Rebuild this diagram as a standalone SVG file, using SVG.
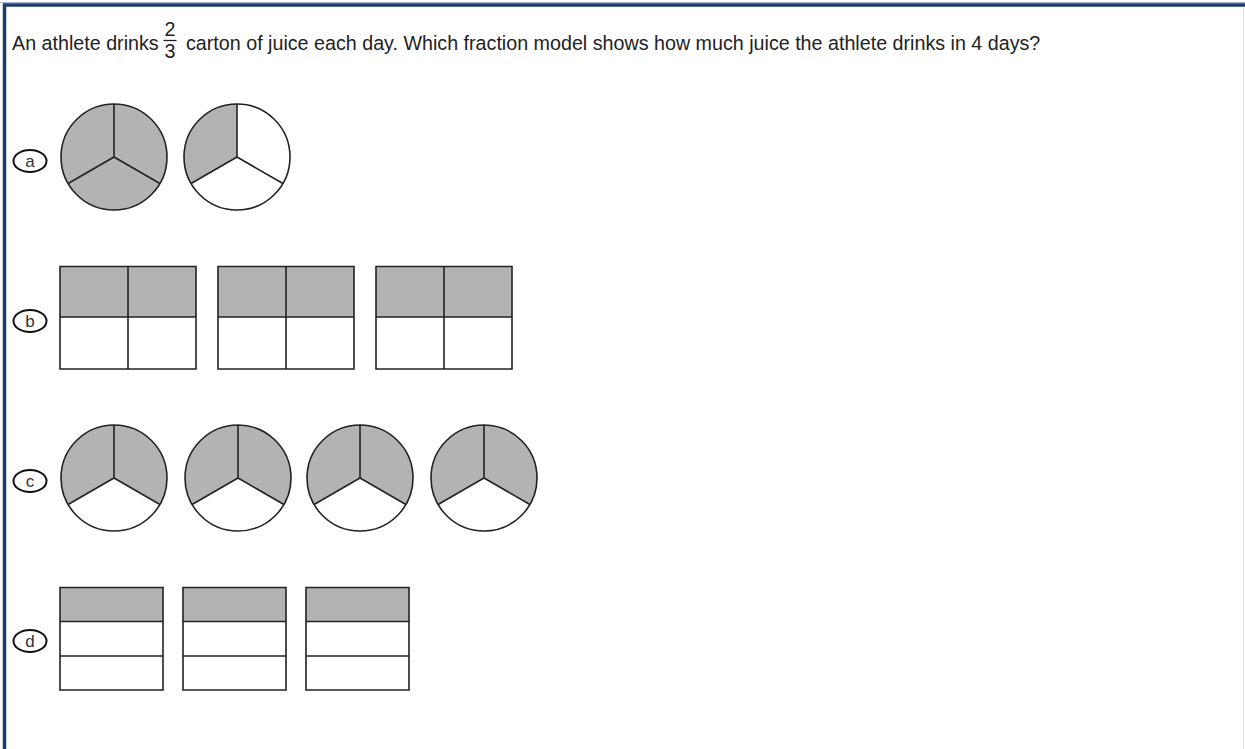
<svg xmlns="http://www.w3.org/2000/svg" xmlns:xlink="http://www.w3.org/1999/xlink" width="1245" height="749" viewBox="0 0 1245 749">
<style>
.q{font-family:"Liberation Sans",Arial,sans-serif;font-size:19.7px;fill:#222}
.lab{font-family:"Liberation Sans",Arial,sans-serif;font-size:17px;fill:#333;text-anchor:middle}
.lel{fill:#fff;stroke:#111;stroke-width:2}
.sh{fill:#b3b3b3}
.wh{fill:#fff}
.ln{fill:none;stroke:#222;stroke-width:1.6}
</style>
<defs>
<g id="spokes"><path class="ln" d="M0,-53 V0 M0,0 L-45.9,26.5 M0,0 L45.9,26.5"/><circle class="ln" r="53"/></g>
<g id="pie3"><circle class="sh" r="53"/><use xlink:href="#spokes"/></g>
<g id="pie1"><circle class="wh" r="53"/><path class="sh" d="M0,0 L-45.9,26.5 A53,53 0 0 1 0,-53 Z"/><use xlink:href="#spokes"/></g>
<g id="pie2"><circle class="wh" r="53"/><path class="sh" d="M0,0 L-45.9,26.5 A53,53 0 0 1 0,-53 A53,53 0 0 1 45.9,26.5 Z"/><use xlink:href="#spokes"/></g>
<g id="rect4"><rect class="wh" x="0" y="0" width="136" height="103"/><rect class="sh" x="0" y="0" width="136" height="51"/><path class="ln" d="M0,0.5 H136 V103 H0 Z M0,51 H136 M68,0 V103"/></g>
<g id="rect3"><rect class="wh" x="0" y="0" width="103" height="103"/><rect class="sh" x="0" y="0" width="103" height="34"/><path class="ln" d="M0,0.5 H103 V103 H0 Z M0,34.5 H103 M0,69 H103"/></g>
</defs>
<rect width="1245" height="749" fill="#fff"/>
<g id="frame">
<path d="M4.5,749 V5 H1245" fill="none" stroke="#1d3c6c" stroke-width="3.5"/>
<path d="M0,2.5 H1245" stroke="#9fb0c8" stroke-width="1"/>
<path d="M1243.5,7 V749" stroke="#e4e4e4" stroke-width="1"/>
</g>
<g id="question">
<text class="q" x="12" y="50">An athlete drinks</text>
<text class="q" x="170" y="35.5" text-anchor="middle">2</text>
<path d="M163.5,40.5 H176.5" stroke="#222" stroke-width="1.3"/>
<text class="q" x="170" y="57.5" text-anchor="middle">3</text>
<text class="q" x="186" y="50">carton of juice each day. Which fraction model shows how much juice the athlete drinks in 4 days?</text>
</g>
<g id="option-a">
<ellipse class="lel" cx="30" cy="161" rx="16.5" ry="11"/>
<text class="lab" x="30" y="167">a</text>
<use xlink:href="#pie3" x="114" y="157"/>
<use xlink:href="#pie1" x="237" y="157"/>
</g>
<g id="option-b">
<ellipse class="lel" cx="30" cy="321" rx="16.5" ry="11"/>
<text class="lab" x="30" y="327">b</text>
<use xlink:href="#rect4" x="60" y="266"/>
<use xlink:href="#rect4" x="218" y="266"/>
<use xlink:href="#rect4" x="376" y="266"/>
</g>
<g id="option-c">
<ellipse class="lel" cx="30" cy="481" rx="16.5" ry="11"/>
<text class="lab" x="30" y="487">c</text>
<use xlink:href="#pie2" x="114" y="478"/>
<use xlink:href="#pie2" x="238" y="478"/>
<use xlink:href="#pie2" x="360" y="478"/>
<use xlink:href="#pie2" x="484" y="478"/>
</g>
<g id="option-d">
<ellipse class="lel" cx="30" cy="641" rx="16.5" ry="11"/>
<text class="lab" x="30" y="647">d</text>
<use xlink:href="#rect3" x="60" y="587"/>
<use xlink:href="#rect3" x="183" y="587"/>
<use xlink:href="#rect3" x="306" y="587"/>
</g>
<g id="connectors"/>
</svg>
